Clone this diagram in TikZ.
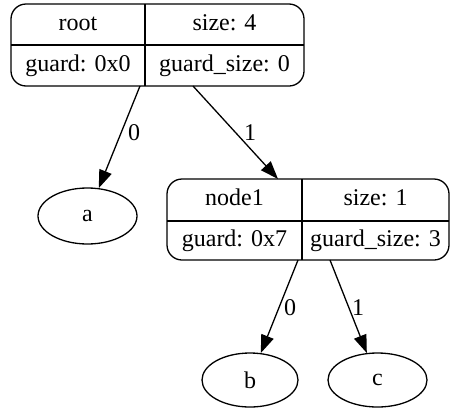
\documentclass[tikz,border=0pt]{standalone}
\usepackage{fontspec}
\setmainfont{Liberation Serif}
\usetikzlibrary{arrows.meta,shapes.geometric}
\begin{document}
\begin{tikzpicture}[x=1pt,y=-1pt,
  line width=1.3pt,
  every node/.style={font=\fontsize{24}{29}\selectfont, inner sep=0pt},
  cell/.style={text height=16pt, text depth=5pt},
  recordbox/.style={draw, rounded corners=15pt, inner sep=0pt},
  leaf/.style={draw, ellipse, inner sep=0pt},
  edge/.style={-{Triangle[length=18pt,width=13pt]}},
  elabel/.style={text height=16pt, text depth=0pt}]
\useasboundingbox (0,0) rectangle (454,418);

% record "root"
\node[recordbox, minimum width=293pt, minimum height=82pt] (root) at (157.5,45) {};
\draw (145,4) -- (145,86);
\draw (11,45) -- (304,45);
\node[cell] (rootname) at (78,25) {root};
\node[cell] (rootsize) at (224.5,25) {size: 4};
\node[cell] (rootguard) at (78,65.5) {guard: 0x0};
\node[cell] (rootgsize) at (224.5,65.5) {guard\_size: 0};

% record "node1"
\node[recordbox, minimum width=282pt, minimum height=81pt] (node1) at (308,219.5) {};
\draw (302,179) -- (302,260);
\draw (167,221) -- (449,221);
\node[cell] (n1name) at (234.5,200) {node1};
\node[cell] (n1size) at (375.5,200) {size: 1};
\node[cell] (n1guard) at (234.5,240.5) {guard: 0x7};
\node[cell] (n1gsize) at (375.5,240.5) {guard\_size: 3};

% leaves
\node[leaf, minimum width=99pt, minimum height=56pt] (a) at (87.5,216) {a};
\node[leaf, minimum width=96pt, minimum height=54pt] (b) at (250,380) {b};
\node[leaf, minimum width=99pt, minimum height=54pt] (c) at (377.5,380) {c};

% edge ports on the record borders
\coordinate (rootport0) at (140,86);
\coordinate (rootport1) at (193,86);
\coordinate (node1in) at (278,179);
\coordinate (n1port0) at (298,260);
\coordinate (n1port1) at (330,260);

% edges
\draw[edge] (rootport0) -- (a);
\draw[edge] (rootport1) -- (node1in);
\draw[edge] (n1port0) -- (b);
\draw[edge] (n1port1) -- (c);

% edge labels
\node[elabel] (lbl0) at (134,132) {0};
\node[elabel] (lbl1) at (250,132) {1};
\node[elabel] (lbl2) at (290,307) {0};
\node[elabel] (lbl3) at (358,307) {1};
\end{tikzpicture}
\end{document}
